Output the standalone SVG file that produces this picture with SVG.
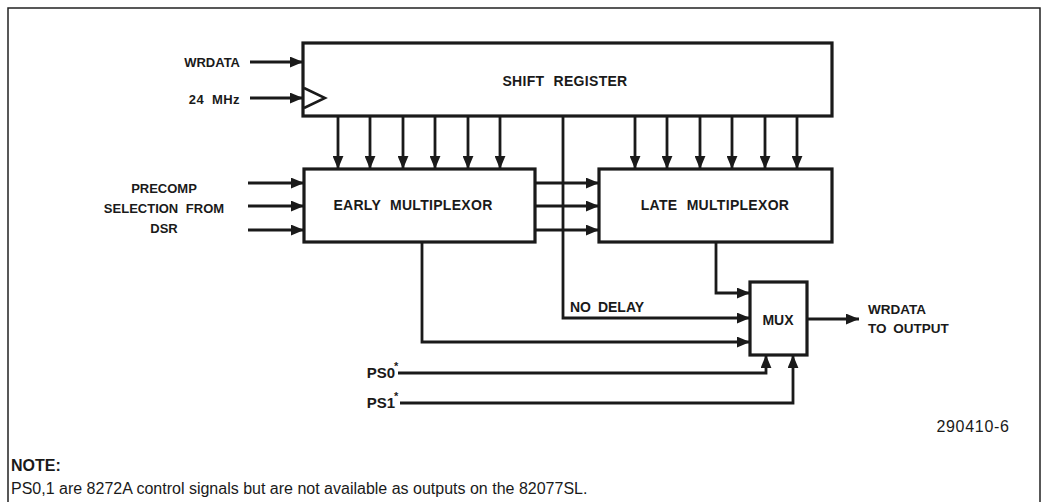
<svg xmlns="http://www.w3.org/2000/svg" width="1042" height="502" viewBox="0 0 1042 502">
<defs>
<marker id="ah" viewBox="0 0 12 10" refX="12" refY="5" markerWidth="13" markerHeight="11" markerUnits="userSpaceOnUse" orient="auto">
<path d="M0,0 L12,5 L0,10 Z" fill="#1a1a1a"/>
</marker>
<style>
.box{fill:#fff;stroke:#1a1a1a;stroke-width:3.2}
.w{fill:none;stroke:#1a1a1a;stroke-width:2.5}
.a{fill:none;stroke:#1a1a1a;stroke-width:2.8;marker-end:url(#ah)}
.t{font-family:"Liberation Sans",Arial,sans-serif;font-weight:bold;font-size:13px;fill:#1a1a1a}
.b{font-size:14px;letter-spacing:0.3px;word-spacing:5px}
.s14{font-size:14px}
.s135{font-size:13.5px}
.s15{font-size:15px}
.s11{font-size:11px}
.n{font-family:"Liberation Sans",Arial,sans-serif;font-size:16px;fill:#1a1a1a}
</style>
</defs>
<rect width="1042" height="502" fill="#fff"/>
<path d="M8,510 V8 H1040 V510" fill="none" stroke="#222" stroke-width="1.5"/>

<g id="connectors">
<path class="a" d="M250,62 H303"/>
<path class="a" d="M250,98 H303"/>
<path class="a" d="M338,116 V169"/>
<path class="a" d="M370,116 V169"/>
<path class="a" d="M403,116 V169"/>
<path class="a" d="M435,116 V169"/>
<path class="a" d="M468,116 V169"/>
<path class="a" d="M500,116 V169"/>
<path class="a" d="M635,116 V169"/>
<path class="a" d="M667,116 V169"/>
<path class="a" d="M700,116 V169"/>
<path class="a" d="M732,116 V169"/>
<path class="a" d="M765,116 V169"/>
<path class="a" d="M797,116 V169"/>
<path class="a" d="M248,183 H304"/>
<path class="a" d="M248,206 H304"/>
<path class="a" d="M248,230 H304"/>
<path class="a" d="M535,183 H599"/>
<path class="a" d="M535,206 H599"/>
<path class="a" d="M535,230 H599"/>
<path class="a" d="M563,116 V318 H750"/>
<path class="a" d="M716,242 V293 H750"/>
<path class="a" d="M422,242 V342 H750"/>
<path class="a" d="M398,373 H766 V355"/>
<path class="a" d="M400,403 H793 V355"/>
<path class="a" d="M807,319 H859"/>
</g>

<g id="shift-register">
<rect class="box" x="303" y="43" width="529" height="73"/>
<path class="w" d="M304,88 L325,98 L304,108" stroke-width="2"/>
<text class="t b" x="565" y="86" text-anchor="middle">SHIFT REGISTER</text>
</g>
<g id="early-mux">
<rect class="box" x="304" y="169" width="231" height="73"/>
<text class="t b" x="413" y="210" text-anchor="middle">EARLY MULTIPLEXOR</text>
</g>
<g id="late-mux">
<rect class="box" x="599" y="169" width="233" height="73"/>
<text class="t b" x="715" y="210" text-anchor="middle">LATE MULTIPLEXOR</text>
</g>
<g id="mux">
<rect class="box" x="750" y="282" width="57" height="73"/>
<text class="t s14" x="778" y="325" text-anchor="middle">MUX</text>
</g>

<g id="labels">
<text class="t" x="240" y="67" text-anchor="end">WRDATA</text>
<text class="t" x="240" y="104" text-anchor="end" word-spacing="4" letter-spacing="0.4">24 MHz</text>
<text class="t" x="164" y="193" text-anchor="middle" word-spacing="4">PRECOMP</text>
<text class="t" x="164" y="213" text-anchor="middle" word-spacing="4">SELECTION FROM</text>
<text class="t" x="164" y="233" text-anchor="middle">DSR</text>
<text class="t s14" x="570" y="312" word-spacing="3">NO DELAY</text>
<text class="t s135" x="868" y="314">WRDATA</text>
<text class="t s135" x="868" y="333" word-spacing="3">TO OUTPUT</text>
<text class="t s15" x="395" y="378" text-anchor="end">PS0</text>
<text class="t s11" x="394" y="370">*</text>
<text class="t s15" x="395" y="408" text-anchor="end">PS1</text>
<text class="t s11" x="394" y="400">*</text>
<text class="n" x="973" y="432" text-anchor="middle" letter-spacing="0.7">290410-6</text>
</g>

<g id="note">
<text class="n" x="11" y="471" font-weight="bold">NOTE:</text>
<text class="n" x="11" y="494">PS0,1 are 8272A control signals but are not available as outputs on the 82077SL.</text>
</g>
</svg>
